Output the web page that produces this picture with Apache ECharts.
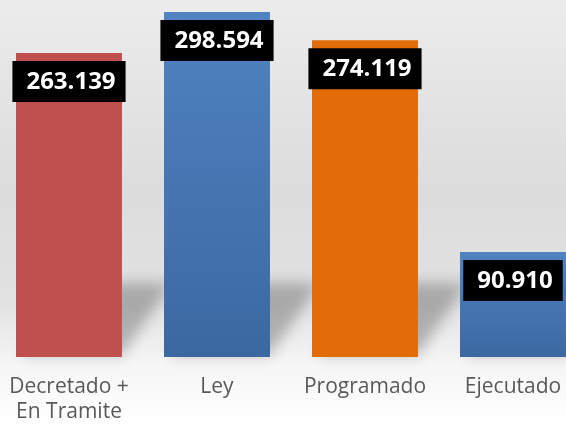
<!DOCTYPE html>
<html>
<head>
<meta charset="utf-8">
<script src="https://cdn.jsdelivr.net/npm/echarts@6/dist/echarts.min.js"></script>
<style>
  html, body { margin: 0; padding: 0; }
  #chart { width: 566px; height: 425px; }
</style>
</head>
<body>
<div id="chart"></div>
<script>
// datos del gráfico
const categories = ['Decretado +\nEn Tramite', 'Ley', 'Programado', 'Ejecutado'];
const values = [263139, 298594, 274119, 90910];

const barColors = [
    '#c0504d',
    { type: 'linear', x: 0, y: 0, x2: 0, y2: 1, colorStops: [{ offset: 0, color: '#5083c2' }, { offset: 1, color: '#3b68a1' }] },
    '#e36c0a',
    { type: 'linear', x: 0, y: 0, x2: 0, y2: 1, colorStops: [{ offset: 0, color: '#5083c2' }, { offset: 1, color: '#3b68a1' }] }
];

// formato con punto de miles
function fmt(v) {
    return String(v).replace(/\B(?=(\d{3})+(?!\d))/g, '.');
}

let myChart = echarts.init(document.getElementById('chart'));

const barWidthRatio = 0.716;

option = {
    backgroundColor: {
        type: 'linear', x: 0, y: 0, x2: 0, y2: 1,
        colorStops: [
            { offset: 0, color: '#ececec' },
            { offset: 0.45, color: '#dcdcdc' },
            { offset: 0.72, color: '#e2e2e2' },
            { offset: 0.86, color: '#f6f6f6' },
            { offset: 1, color: '#ffffff' }
        ]
    },
    animation: false,
    grid: {
        left: -5,
        width: 592,
        top: 10.4,
        bottom: 68,
        outerBoundsMode: 'none'
    },
    xAxis: {
        type: 'category',
        data: categories,
        axisLine: { show: false },
        axisTick: { show: false },
        axisLabel: {
            color: '#595959',
            fontFamily: 'Open Sans',
            fontSize: 21,
            lineHeight: 25,
            margin: 18,
            interval: 0
        }
    },
    yAxis: {
        type: 'value',
        min: 0,
        max: 300000,
        show: false
    },
    series: [
        {
            // sombra en perspectiva detrás de cada barra
            type: 'custom',
            z: 1,
            silent: true,
            data: values.map((v, i) => [i, v]),
            renderItem: function (params, api) {
                const base = api.coord([api.value(0), 0]);
                const bw = api.size([1, 0])[0] * barWidthRatio;
                const x0 = base[0] - bw / 2;
                const x1 = base[0] + bw / 2;
                const yb = base[1];
                const off = 1000;
                const h = 74;
                const sk = 50;
                return {
                    type: 'polygon',
                    shape: {
                        points: [
                            [x0 + 6 - off, yb - 2],
                            [x1 - off, yb - 2],
                            [x1 + sk - off, yb - h],
                            [x0 + sk - off, yb - h]
                        ]
                    },
                    style: {
                        fill: '#000',
                        shadowColor: 'rgba(0,0,0,0.25)',
                        shadowBlur: 14,
                        shadowOffsetX: off,
                        shadowOffsetY: 0
                    }
                };
            }
        },
        {
            type: 'bar',
            z: 2,
            barCategoryGap: '28.4%',
            data: values.map((v, i) => ({ value: v, itemStyle: { color: barColors[i] } })),
            label: {
                show: true,
                position: 'insideTop',
                distance: 8,
                formatter: p => fmt(p.value),
                backgroundColor: '#000',
                color: '#fff',
                fontFamily: 'Open Sans',
                fontWeight: 'bold',
                fontSize: 24,
                padding: [9, 10, 8, 14]
            }
        }
    ]
};

myChart.setOption(option);
</script>
</body>
</html>
